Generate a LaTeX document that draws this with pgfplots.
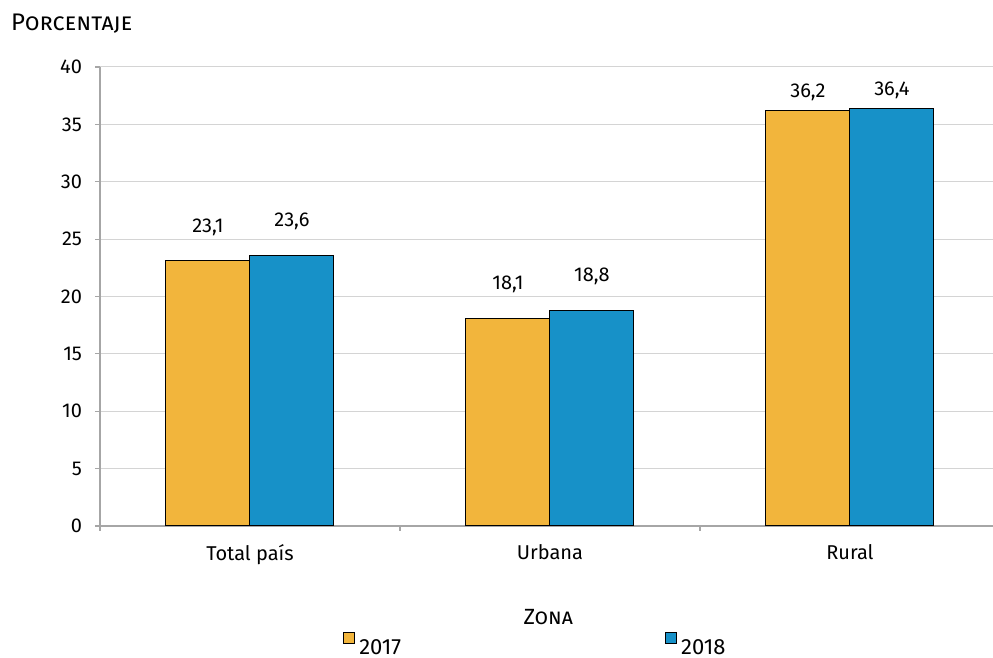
\documentclass[border=0pt]{standalone}
\usepackage{pgfplots}
\pgfplotsset{compat=1.18}
\usepackage{fontspec}
\setmainfont{Fira Sans}

\definecolor{c2017}{HTML}{F2B53C}
\definecolor{c2018}{HTML}{1791C8}
\definecolor{axgray}{HTML}{A6A6A6}
\definecolor{grgray}{HTML}{D4D4D4}

\begin{document}
\begin{tikzpicture}
\path[use as bounding box] (-50pt,-66pt) rectangle (446.5pt,263pt);
\begin{axis}[
  at={(0,0)}, anchor=south west,
  scale only axis,
  width=446.5pt, height=229.5pt,
  ybar=0pt, bar width=42pt,
  xmin=-0.5, xmax=2.477,
  ymin=0, ymax=40,
  ytick={0,5,...,40},
  xtick={0,1,2},
  xticklabels={Total país, Urbana, Rural},
  minor xtick={-0.5,0.5,1.5},
  major x tick style={draw=none},
  tick align=outside,
  major tick length=2.5pt, minor tick length=2.5pt,
  tick style={axgray, line width=0.6pt},
  axis x line*=bottom, axis y line*=left,
  axis line style={axgray, line width=0.8pt},
  ymajorgrids, grid style={grgray, line width=0.5pt},
  every tick label/.append style={font=\fontsize{10}{12}\selectfont, text=black},
  yticklabel style={xshift=-3pt},
  xticklabel style={yshift=-3pt},
  /pgf/number format/assume math mode=true,
  /pgf/number format/use comma,
  visualization depends on={ifthenelse(\coordindex==2,4.5,12.5) \as \lblshift},
  nodes near coords,
  nodes near coords style={font=\fontsize{10}{12}\selectfont, anchor=south, inner sep=0pt, yshift=\lblshift pt,
    /pgf/number format/.cd, fixed, fixed zerofill, precision=1, use comma},
  xlabel={\textsc{Zona}},
  xlabel style={font=\fontsize{11}{13}\selectfont, at={(axis description cs:0.502,-0.215)}, anchor=base},
  legend columns=2,
  legend style={draw=none, fill=none, at={(axis description cs:0.272,-0.266)}, anchor=base west,
    font=\fontsize{11}{12}\selectfont, inner sep=0pt,
    /tikz/every even column/.append style={column sep=130pt}},
  legend image code/.code={\draw[#1, draw=black, line width=0.5pt] (0pt,2.5pt) rectangle (5.5pt,8pt);},
  clip=false,
]
\addplot[fill=c2017, draw=black, line width=0.5pt] coordinates {(0,23.1) (1,18.1) (2,36.2)};
\addplot[fill=c2018, draw=black, line width=0.5pt] coordinates {(0,23.6) (1,18.8) (2,36.4)};
\legend{2017, 2018}
\node[anchor=base west, inner sep=0pt, font=\fontsize{12}{14}\selectfont] at (axis description cs:-0.1,1.08) {\textsc{Porcentaje}};
\end{axis}
\end{tikzpicture}
\end{document}
